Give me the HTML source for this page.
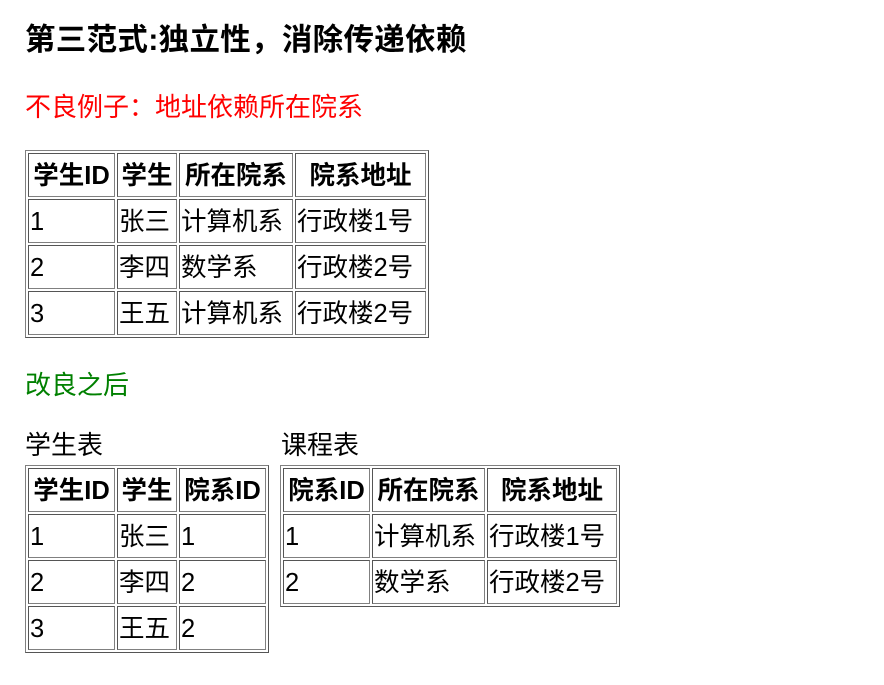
<!DOCTYPE html>
<html><head><meta charset="utf-8"><style>
body{margin:0;background:#fff;width:884px;height:685px;position:relative;font-family:"Liberation Sans","Noto Sans CJK SC",sans-serif;color:#000;overflow:hidden}
.t{position:absolute;white-space:nowrap;line-height:1}
table{position:absolute;border-collapse:separate;border-spacing:2px;border:1px solid #808080;border-right-color:#555;border-bottom-color:#555;table-layout:fixed;font-size:25.5px}
td,th{border:1px solid #808080;border-top-color:#555;border-left-color:#555;height:44px;box-sizing:border-box;padding:4px 1px 0;line-height:1;white-space:nowrap;overflow:hidden}
th{font-weight:bold;text-align:center}
td{text-align:left}
</style></head><body>
<div class="t" style="left:25px;top:25px;font-size:30.5px;font-weight:bold;letter-spacing:0.3px">第三范式:独立性，消除传递依赖</div>
<div class="t" style="left:25px;top:94px;font-size:26px;color:#ff0000">不良例子：地址依赖所在院系</div>
<table style="left:25px;top:150px">
<colgroup><col style="width:87px"><col style="width:60px"><col style="width:114px"><col style="width:131px"></colgroup>
<tr><th>学生ID</th><th>学生</th><th>所在院系</th><th>院系地址</th></tr>
<tr><td>1</td><td>张三</td><td>计算机系</td><td>行政楼1号</td></tr>
<tr><td>2</td><td>李四</td><td>数学系</td><td>行政楼2号</td></tr>
<tr><td>3</td><td>王五</td><td>计算机系</td><td>行政楼2号</td></tr>
</table>
<div class="t" style="left:25px;top:372px;font-size:26px;color:#008000">改良之后</div>
<div class="t" style="left:25px;top:432px;font-size:26px">学生表</div>
<div class="t" style="left:281px;top:432px;font-size:26px">课程表</div>
<table style="left:25px;top:465px">
<colgroup><col style="width:87px"><col style="width:60px"><col style="width:87px"></colgroup>
<tr><th>学生ID</th><th>学生</th><th>院系ID</th></tr>
<tr><td>1</td><td>张三</td><td>1</td></tr>
<tr><td>2</td><td>李四</td><td>2</td></tr>
<tr><td>3</td><td>王五</td><td>2</td></tr>
</table>
<table style="left:280px;top:465px">
<colgroup><col style="width:87px"><col style="width:113px"><col style="width:130px"></colgroup>
<tr><th>院系ID</th><th>所在院系</th><th>院系地址</th></tr>
<tr><td>1</td><td>计算机系</td><td>行政楼1号</td></tr>
<tr><td>2</td><td>数学系</td><td>行政楼2号</td></tr>
</table>
</body></html>
